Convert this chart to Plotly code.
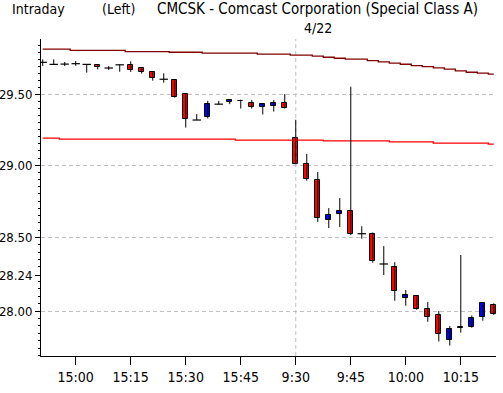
import math
import plotly.graph_objects as go

# ---- data (3-minute candles) ----
times = ["14:51","14:54","14:57","15:00","15:03","15:06","15:09","15:12","15:15","15:18",
         "15:21","15:24","15:27","15:30","15:33","15:36","15:39","15:42","15:45","15:48",
         "15:51","15:54","15:57",
         "9:30","9:33","9:36","9:39","9:42","9:45","9:48","9:51","9:54","9:57","10:00",
         "10:03","10:06","10:09","10:12","10:15","10:18","10:21","10:24"]
opens  = [29.727,29.712,29.714,29.717,29.712,29.707,29.686,29.709,29.707,29.684,
          29.655,29.606,29.599,29.499,29.317,29.335,29.429,29.443,29.452,29.438,
          29.408,29.419,29.438,
          29.190,29.007,28.898,28.617,28.663,28.679,28.526,28.523,28.319,28.297,28.090,
          28.100,28.011,27.971,27.805,27.891,27.895,27.958,28.039]
highs  = [29.748,29.748,29.729,29.736,29.712,29.714,29.700,29.709,29.734,29.684,
          29.655,29.648,29.599,29.499,29.359,29.452,29.452,29.459,29.461,29.459,
          29.431,29.459,29.501,
          29.319,29.079,28.953,28.702,28.772,29.553,28.577,28.535,28.441,28.331,28.143,
          28.100,28.061,28.000,27.900,28.380,27.971,28.052,28.052]
lows   = [29.701,29.712,29.700,29.702,29.653,29.677,29.672,29.660,29.658,29.646,
          29.596,29.582,29.475,29.264,29.317,29.328,29.429,29.429,29.398,29.398,
          29.356,29.377,29.398,
          29.007,28.893,28.607,28.565,28.572,28.516,28.491,28.328,28.244,28.070,28.036,
          28.009,27.928,27.796,27.769,27.855,27.888,27.935,27.975]
closes = [29.727,29.712,29.714,29.717,29.712,29.691,29.686,29.709,29.670,29.655,
          29.613,29.606,29.482,29.324,29.317,29.429,29.429,29.459,29.448,29.408,
          29.431,29.438,29.405,
          29.007,28.902,28.631,28.658,28.679,28.523,28.526,28.341,28.319,28.134,28.107,
          28.016,27.962,27.845,27.878,27.887,27.951,28.052,27.982]
ma_long  = [29.821,29.821,29.821,29.813,29.813,29.813,29.813,29.813,29.803,29.803,
            29.803,29.803,29.799,29.799,29.799,29.792,29.792,29.792,29.792,29.792,
            29.785,29.785,29.785,
            29.778,29.778,29.771,29.763,29.756,29.749,29.749,29.739,29.730,29.721,29.713,
            29.703,29.696,29.687,29.678,29.666,29.656,29.649,29.642]
ma_short = [29.190,29.190,29.183,29.183,29.183,29.183,29.183,29.183,29.183,29.183,
            29.183,29.183,29.183,29.183,29.183,29.183,29.183,29.183,29.176,29.176,
            29.176,29.176,29.176,
            29.176,29.176,29.176,29.170,29.170,29.170,29.170,29.170,29.170,29.163,29.163,
            29.163,29.163,29.155,29.155,29.155,29.155,29.155,29.148]

x_tick_labels = ["15:00","15:15","15:30","15:45","9:30","9:45","10:00","10:15"]
y_tick_vals = [29.50, 29.00, 28.50, 28.24, 28.00]
grid_levels = [29.50, 29.00, 28.50, 28.00]
session_date = "4/22"
day_break = times.index("9:30")

title_left = "Intraday"
title_mid = "(Left)"
title_main = "CMCSK - Comcast Corporation (Special Class A)"

# ---- styling ----
FONT = "DejaVu Sans Condensed, sans-serif"
FS = 14
W, H = 503, 393
ML, MR, MT, MB = 41, 7, 39, 37
PW, PH = W - ML - MR, H - MT - MB
DASH = "4px,3px"

idx = list(range(len(times)))
x_tick_idx = [times.index(t) for t in x_tick_labels]

fig = go.Figure()

ylo, yhi = 27.699, 29.894
yrange = [math.log10(ylo), math.log10(yhi)]

# day separator
fig.add_trace(go.Scatter(x=[day_break, day_break], y=[ylo, yhi], mode="lines",
                         line=dict(color="#c0c0c0", width=1, dash=DASH),
                         hoverinfo="skip", showlegend=False))

# moving averages
fig.add_trace(go.Scatter(x=idx, y=ma_long, mode="lines", line=dict(color="#800000", width=1.3, shape="hvh"),
                         hoverinfo="skip", showlegend=False))
fig.add_trace(go.Scatter(x=idx, y=ma_short, mode="lines", line=dict(color="#ff0000", width=1.3, shape="hvh"),
                         hoverinfo="skip", showlegend=False))

# wicks
wx, wy = [], []
for i, (h, l) in enumerate(zip(highs, lows)):
    wx += [i, i, None]
    wy += [l, h, None]
fig.add_trace(go.Scatter(x=wx, y=wy, mode="lines", line=dict(color="black", width=1),
                         hoverinfo="skip", showlegend=False))

# bodies
bx, bbase, bh, bcol = [], [], [], []
dx, dy = [], []
for i, (o, c) in enumerate(zip(opens, closes)):
    if abs(c - o) < 1e-9:
        dx.append(i); dy.append(c)
    else:
        bx.append(i)
        bbase.append(min(o, c))
        bh.append(abs(c - o))
        bcol.append("#0000ff" if c > o else "#ff0000")
fig.add_trace(go.Bar(x=bx, y=bh, base=bbase, width=0.42,
                     marker=dict(color=bcol, line=dict(color="black", width=1)),
                     hoverinfo="skip", showlegend=False))
fig.add_trace(go.Scatter(x=dx, y=dy, mode="markers",
                         marker=dict(symbol="line-ew", size=6, line=dict(color="black", width=1.2)),
                         hoverinfo="skip", showlegend=False))

minor_vals = [round(27.70 + 0.05 * k, 2) for k in range(0, 44)]
minor_vals = [v for v in minor_vals if all(abs(v - t) > 0.011 for t in y_tick_vals)]

fig.update_layout(
    width=W, height=H,
    margin=dict(l=ML, r=MR, t=MT, b=MB, pad=0),
    paper_bgcolor="white", plot_bgcolor="white",
    font=dict(family=FONT, size=FS, color="black"),
    bargap=0, hovermode=False,
    xaxis=dict(range=[-0.155, 41.2], tickmode="array", tickvals=x_tick_idx, ticktext=x_tick_labels,
               automargin=False,
               showgrid=False, zeroline=False, showline=True, linecolor="black", linewidth=1,
               ticks="outside", ticklen=8, tickcolor="black", tickwidth=1,
               tickfont=dict(family=FONT, size=FS, color="black")),
    yaxis=dict(type="log", range=yrange, tickmode="array", tickvals=y_tick_vals,
               ticktext=[f"{v:.2f}" for v in y_tick_vals], automargin=False,
               showgrid=False, zeroline=False, showline=True, linecolor="black", linewidth=1,
               ticks="outside", ticklen=5, tickcolor="black", tickwidth=1,
               tickfont=dict(family=FONT, size=13, color="black"),
               minor=dict(tickmode="array", tickvals=minor_vals, ticks="outside", ticklen=2,
                          tickcolor="black", tickwidth=1, showgrid=False)),
    yaxis2=dict(type="log", range=yrange, overlaying="y", side="left", anchor="x",
                tickmode="array", tickvals=grid_levels, showticklabels=False, ticks="",
                automargin=False,
                showgrid=True, gridcolor="#c0c0c0", griddash=DASH, gridwidth=1,
                zeroline=False, showline=False),
)
# empty trace that activates the grid axis
fig.add_trace(go.Scatter(x=[None], y=[None], yaxis="y2", showlegend=False, hoverinfo="skip"))

def px2paper_x(px):
    return (px - ML) / PW

def px2paper_y(py):
    return (H - MB - py) / PH

for txt, px, fs in [(title_left, 10, FS), (title_mid, 100, FS), (title_main, 155, 15)]:
    fig.add_annotation(text=txt, xref="paper", yref="paper", x=px2paper_x(px), y=px2paper_y(9),
                       xanchor="left", yanchor="middle", showarrow=False,
                       font=dict(family=FONT, size=fs, color="black"))
fig.add_annotation(text=session_date, xref="x", yref="paper", x=day_break, y=px2paper_y(28),
                   xanchor="left", xshift=6, yanchor="middle", showarrow=False,
                   font=dict(family=FONT, size=FS, color="black"))

fig.write_html("out.html", config={"displayModeBar": False},
               post_script="document.body.style.margin='0';document.body.style.padding='0';")
